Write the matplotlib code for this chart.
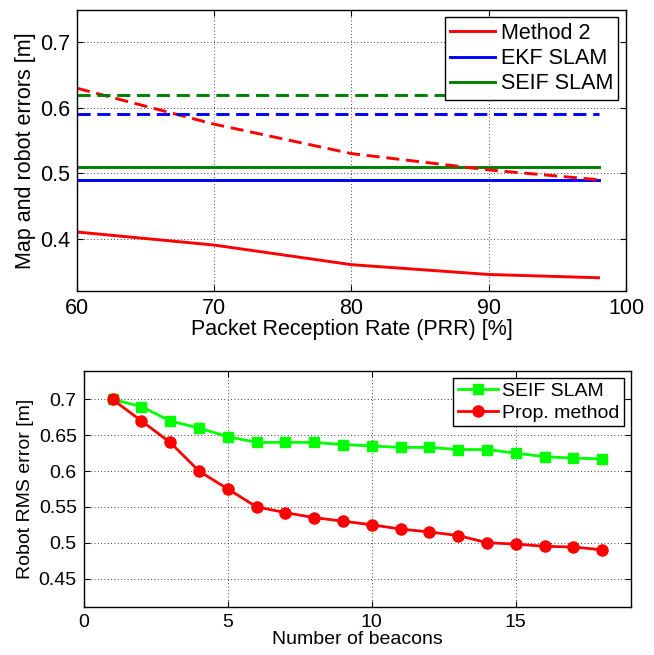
import matplotlib
matplotlib.use("Agg")
import matplotlib.pyplot as plt

plt.rcParams['font.family'] = ['Liberation Sans', 'DejaVu Sans']

# Top chart data
prr = [60, 70, 80, 90, 98]
method2_robot = [0.41, 0.39, 0.36, 0.345, 0.34]
method2_map = [0.63, 0.575, 0.53, 0.505, 0.49]
ekf_robot = [0.49, 0.49, 0.49, 0.49, 0.49]
ekf_map = [0.59, 0.59, 0.59, 0.59, 0.59]
seif_robot = [0.51, 0.51, 0.51, 0.51, 0.51]
seif_map = [0.62, 0.62, 0.62, 0.62, 0.62]

# Bottom chart data
beacons = list(range(1, 19))
seif_rms = [0.70, 0.69, 0.67, 0.66, 0.648, 0.64, 0.64, 0.64, 0.637, 0.635,
            0.633, 0.633, 0.63, 0.63, 0.625, 0.62, 0.618, 0.617]
prop_rms = [0.70, 0.67, 0.64, 0.60, 0.575, 0.55, 0.542, 0.535, 0.53, 0.525,
            0.519, 0.515, 0.51, 0.50, 0.498, 0.495, 0.494, 0.49]

fig = plt.figure(figsize=(6.54, 6.55), dpi=100)

def style(ax, fs):
    ax.grid(True, linestyle=(0, (1, 3)), color='black', linewidth=0.6)
    ax.tick_params(direction='in', top=True, right=True, labelsize=fs, length=4, pad=5)
    for s in ax.spines.values():
        s.set_linewidth(1.0)

dash = (0, (4.5, 2.3))
ax1 = fig.add_axes([0.1177, 0.556, 0.8395, 0.429])
ax1.plot(prr, method2_robot, color='red', lw=2.1, label='Method 2')
ax1.plot(prr, ekf_robot, color='blue', lw=2.1, label='EKF SLAM')
ax1.plot(prr, seif_robot, color='green', lw=2.1, label='SEIF SLAM')
ax1.plot(prr, method2_map, color='red', lw=2.1, ls=dash)
ax1.plot(prr, ekf_map, color='blue', lw=2.1, ls=dash)
ax1.plot(prr, seif_map, color='green', lw=2.1, ls=dash)
ax1.set_xlim(60, 100)
ax1.set_ylim(0.32, 0.75)
ax1.set_xticks([60, 70, 80, 90, 100])
ax1.set_yticks([0.4, 0.5, 0.6, 0.7])
ax1.set_yticklabels(['0.4', '0.5', '0.6', '0.7'])
style(ax1, 15.5)
ax1.set_xlabel('Packet Reception Rate (PRR) [%]', fontsize=15.5, labelpad=0)
ax1.set_ylabel('Map and robot errors [m]', fontsize=15.5, labelpad=3)
leg1 = ax1.legend(loc='upper right', fontsize=15.5, fancybox=False, framealpha=1,
                  edgecolor='black', handlelength=2.1, borderpad=0.25,
                  labelspacing=0.2, handletextpad=0.25, borderaxespad=0.35)
leg1.get_frame().set_linewidth(1.0)

ax2 = fig.add_axes([0.128, 0.073, 0.837, 0.361])
ax2.plot(beacons, seif_rms, color='#00ff00', lw=2, marker='s', ms=7, label='SEIF SLAM')
ax2.plot(beacons, prop_rms, color='red', lw=2, marker='o', ms=8, label='Prop. method')
ax2.set_xlim(0, 19)
ax2.set_ylim(0.41, 0.74)
ax2.set_xticks([0, 5, 10, 15])
ax2.set_yticks([0.45, 0.5, 0.55, 0.6, 0.65, 0.7])
ax2.set_yticklabels(['0.45', '0.5', '0.55', '0.6', '0.65', '0.7'])
style(ax2, 14)
ax2.set_xlabel('Number of beacons', fontsize=14, labelpad=0)
ax2.set_ylabel('Robot RMS error [m]', fontsize=14, labelpad=3)
leg2 = ax2.legend(loc='upper right', fontsize=14, fancybox=False, framealpha=1,
                  edgecolor='black', handlelength=2.05, borderpad=0.25,
                  labelspacing=0.2, handletextpad=0.2, borderaxespad=0.35)
leg2.get_frame().set_linewidth(1.0)

fig.savefig('out.png', dpi=100)
